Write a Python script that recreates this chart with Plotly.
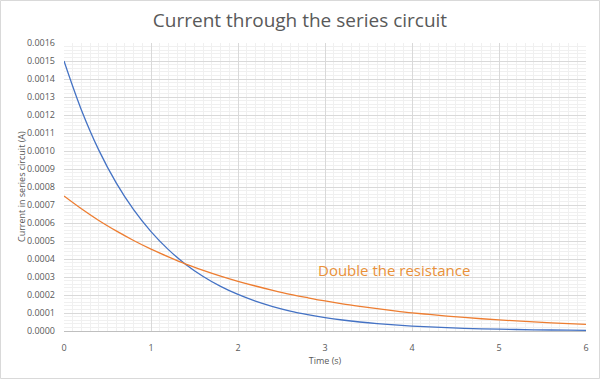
import plotly.graph_objects as go

time_s = [0.0, 0.2, 0.4, 0.6, 0.8, 1.0, 1.2, 1.4, 1.6, 1.8, 2.0, 2.2, 2.4, 2.6, 2.8, 3.0,
          3.2, 3.4, 3.6, 3.8, 4.0, 4.2, 4.4, 4.6, 4.8, 5.0, 5.2, 5.4, 5.6, 5.8, 6.0]
current_r = [0.0015, 0.001228, 0.001005, 0.000823, 0.000674, 0.000552, 0.000452, 0.000370,
             0.000303, 0.000248, 0.000203, 0.000166, 0.000136, 0.000111, 0.0000912, 0.0000747,
             0.0000611, 0.0000500, 0.0000410, 0.0000336, 0.0000275, 0.0000225, 0.0000184,
             0.0000151, 0.0000123, 0.0000101, 0.0000083, 0.0000068, 0.0000055, 0.0000045, 0.0000037]
current_2r = [0.00075, 0.000679, 0.000614, 0.000556, 0.000503, 0.000455, 0.000412, 0.000372,
              0.000337, 0.000305, 0.000276, 0.000250, 0.000226, 0.000204, 0.000185, 0.000167,
              0.000151, 0.000137, 0.000124, 0.000112, 0.000101, 0.0000919, 0.0000831,
              0.0000752, 0.0000680, 0.0000616, 0.0000557, 0.0000504, 0.0000456, 0.0000413, 0.0000373]

title_text = "Current through the series circuit"
x_title = "Time (s)"
y_title = "Current in series circuit (A)"
note_text = "Double the resistance"
note_x, note_y = 2.9, 0.000339

FONT = "Open Sans"
GREY = "#595959"

fig = go.Figure()
fig.add_trace(go.Scatter(x=time_s, y=current_r, mode="lines", line=dict(color="#4472C4", width=1.3, shape="spline"), name="R"))
fig.add_trace(go.Scatter(x=time_s, y=current_2r, mode="lines", line=dict(color="#ED7D31", width=1.3, shape="spline"), name="2R"))

fig.add_annotation(x=note_x, y=note_y, text=note_text, showarrow=False, xanchor="left", yanchor="middle",
                   font=dict(family=FONT, size=15, color="#E9913A"))

# y-axis title as rotated annotation
fig.add_annotation(x=-43/522, y=0.5, xref="paper", yref="paper", text=y_title, textangle=-90,
                   showarrow=False, xanchor="center", yanchor="middle",
                   font=dict(family=FONT, size=9, color=GREY))

fig.update_layout(
    width=600, height=379,
    margin=dict(l=64, r=14, t=43, b=48),
    paper_bgcolor="white", plot_bgcolor="white",
    showlegend=False,
    title=dict(text=title_text, x=0.5, xanchor="center", y=0.947, yanchor="middle",
               font=dict(family=FONT, size=19, color=GREY)),
    font=dict(family=FONT, size=9, color=GREY),
)
fig.update_xaxes(range=[0, 6], dtick=1, tickformat="d", showgrid=True, gridcolor="#D9D9D9", gridwidth=1,
                 minor=dict(dtick=0.1, showgrid=True, gridcolor="#F0F0F0", gridwidth=1),
                 showline=True, linecolor="#BFBFBF", zeroline=False, ticks="", automargin=False,
                 ticklabelstandoff=8,
                 title=dict(text=x_title, font=dict(family=FONT, size=9, color=GREY), standoff=4),
                 tickfont=dict(size=9, color=GREY))
fig.update_yaxes(range=[0, 0.0016], dtick=0.0001, tickformat=".4f", showgrid=True, gridcolor="#D9D9D9", gridwidth=1,
                 minor=dict(dtick=0.00002, showgrid=True, gridcolor="#F0F0F0", gridwidth=1),
                 showline=False, zeroline=False, ticks="", automargin=False,
                 ticklabelstandoff=8,
                 tickfont=dict(size=9, color=GREY))

# chart border
fig.add_shape(type="rect", xref="paper", yref="paper",
              x0=-63.5/522, x1=1 + 13.5/522, y0=-47.5/288, y1=1 + 42.5/288,
              line=dict(color="#D9D9D9", width=1), fillcolor="rgba(0,0,0,0)", layer="below")

fig.write_html("out.html", config={"displayModeBar": False},
               post_script="document.body.style.margin='0';")
